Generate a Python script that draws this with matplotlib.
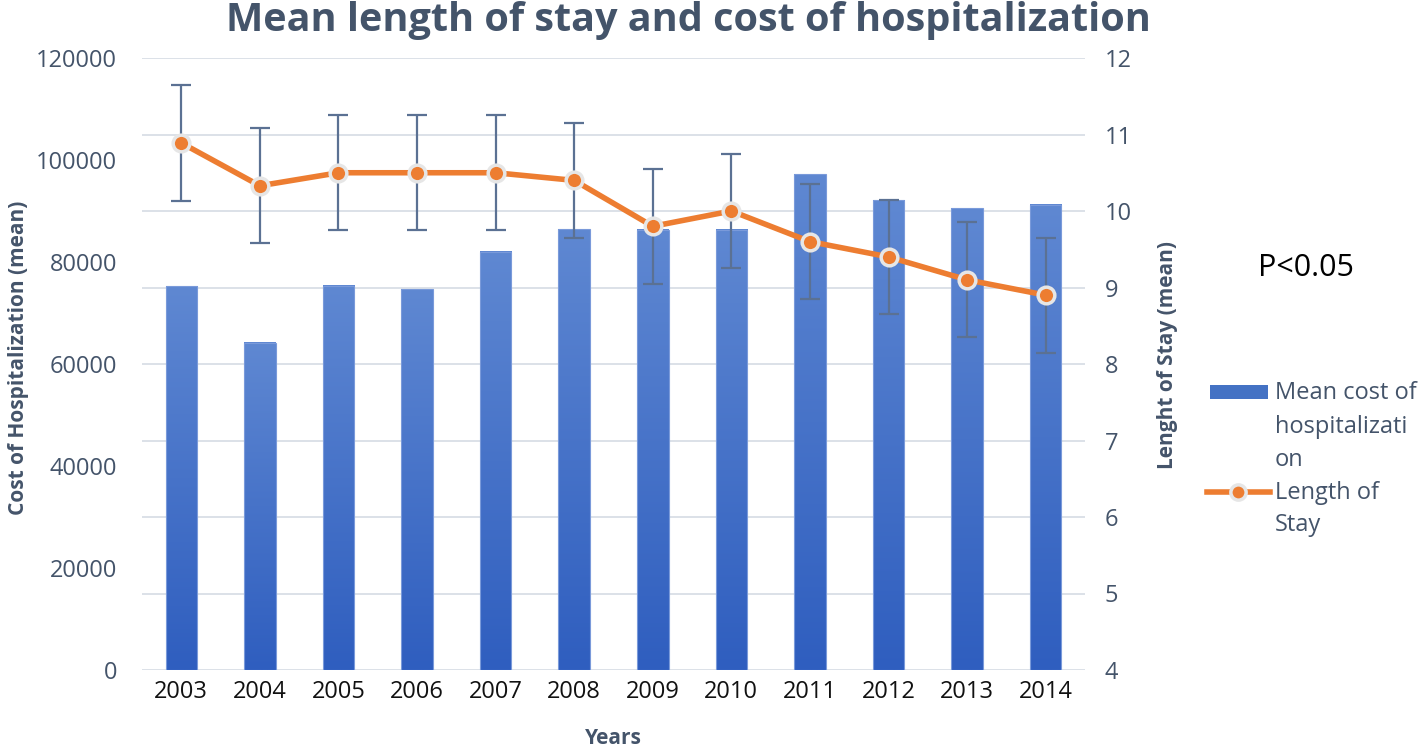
import numpy as np
import matplotlib
matplotlib.use('Agg')
import matplotlib.pyplot as plt
from matplotlib.colors import LinearSegmentedColormap
from matplotlib.lines import Line2D
from matplotlib.patches import Rectangle

years = ['2003', '2004', '2005', '2006', '2007', '2008',
         '2009', '2010', '2011', '2012', '2013', '2014']
mean_cost = [75200, 64200, 75300, 74700, 82000, 86400,
             86300, 86300, 97200, 92100, 90500, 91200]
length_of_stay = [10.89, 10.33, 10.5, 10.5, 10.5, 10.4,
                  9.8, 10.0, 9.6, 9.4, 9.1, 8.9]
stay_err = [0.76, 0.75, 0.75, 0.75, 0.75, 0.75,
            0.75, 0.75, 0.75, 0.75, 0.75, 0.75]
cost_ticks = [0, 20000, 40000, 60000, 80000, 100000, 120000]
stay_ticks = [4, 5, 6, 7, 8, 9, 10, 11, 12]

slate = '#44546A'
plt.rcParams['font.family'] = ['Open Sans', 'DejaVu Sans']

W, H = 1418, 747
fig = plt.figure(figsize=(W / 100, H / 100), dpi=100)
ax = fig.add_axes([142 / W, 1 - 670 / H, (1085 - 142) / W, (670 - 58) / H])
ax2 = ax.twinx()

x = np.arange(len(years))

# bars with vertical gradient
ax.set_xlim(-0.5, len(years) - 0.5)
ax.set_ylim(cost_ticks[0], cost_ticks[-1])
bars = ax.bar(x, mean_cost, width=0.4, color='none', edgecolor='#7A9ADA',
              linewidth=0.8, zorder=3)
grad = np.linspace(0, 1, 256).reshape(-1, 1)
cmap = LinearSegmentedColormap.from_list('barfade', ['#2F5EBF', '#5F88D2'])
for b in bars:
    ax.imshow(grad, cmap=cmap, origin='lower', aspect='auto', zorder=2,
              extent=[b.get_x(), b.get_x() + b.get_width(), 0, b.get_height()])
ax.set_xlim(-0.5, len(years) - 0.5)
ax.set_ylim(cost_ticks[0], cost_ticks[-1])

# gridlines follow the right axis ticks
lo, hi = stay_ticks[0], stay_ticks[-1]
for t in stay_ticks:
    ax.axhline((t - lo) / (hi - lo) * cost_ticks[-1], color='#D9DEE6', lw=1.3, zorder=1)

# length of stay line with error bars
ax2.errorbar(x, length_of_stay, yerr=stay_err, fmt='none', ecolor='#5B7193',
             elinewidth=1.6, capsize=7, capthick=1.6, zorder=2)
ax2.plot(x, length_of_stay, color='#ED7D31', lw=4, marker='o', markersize=12,
         markerfacecolor='#ED7D31', markeredgecolor='#E6E6E6', markeredgewidth=2.5,
         zorder=3)
ax2.set_ylim(lo, hi)

ax.set_yticks(cost_ticks)
ax2.set_yticks(stay_ticks)
ax.set_xticks(x)
ax.set_xticklabels(years)

for a in (ax, ax2):
    for s in a.spines.values():
        s.set_visible(False)
ax.tick_params(axis='y', length=0, pad=18, labelsize=17, labelcolor=slate)
ax2.tick_params(axis='y', length=0, pad=14, labelsize=17, labelcolor=slate)
ax.tick_params(axis='x', length=0, pad=7, labelsize=17, labelcolor='#111111')

ax.set_ylabel('Cost of Hospitalization (mean)', fontsize=15, fontweight='bold', color=slate)
ax.yaxis.set_label_coords(-0.12, 0.51)
ax2.set_ylabel('Lenght of Stay (mean)', fontsize=15, fontweight='bold', color=slate)
ax2.yaxis.set_label_coords(1.076, 0.515)
ax.set_xlabel('Years', fontsize=15, fontweight='bold', color=slate)
ax.xaxis.set_label_coords(0.5, -0.094)

fig.text(688 / W, 1 - 21 / H, 'Mean length of stay and cost of hospitalization',
         ha='center', va='center', fontsize=28.5, fontweight='bold', color=slate)
fig.text(1306 / W, 1 - 268 / H, 'P<0.05', ha='center', va='center',
         fontsize=22, color='black')

# legend drawn by hand so the keys line up with the first text line
fig.add_artist(Rectangle((1210 / W, 1 - 399 / H), 58 / W, 14 / H,
                         transform=fig.transFigure, facecolor='#4472C4', edgecolor='none'))
fig.add_artist(Line2D([1207 / W, 1270 / W], [1 - 492 / H, 1 - 492 / H],
                      transform=fig.transFigure, color='#ED7D31', lw=4))
fig.add_artist(Line2D([1238 / W], [1 - 492 / H], transform=fig.transFigure,
                      marker='o', markersize=11, markerfacecolor='#ED7D31',
                      markeredgecolor='#E6E6E6', markeredgewidth=2.5))
legend_lines = [('Mean cost of', 393), ('hospitalizati', 427), ('on', 460),
                ('Length of', 493), ('Stay', 525)]
for txt, yy in legend_lines:
    fig.text(1275 / W, 1 - yy / H, txt, ha='left', va='center', fontsize=17, color=slate)

fig.savefig('out.png', dpi=100)
